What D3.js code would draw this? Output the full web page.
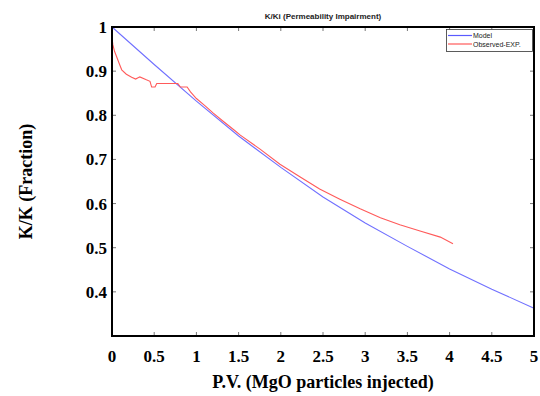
<!DOCTYPE html>
<html><head><meta charset="utf-8">
<script src="https://cdn.jsdelivr.net/npm/d3@7"></script>
<style>body{margin:0;background:#fff}</style>
</head><body>
<svg id="c" width="540" height="396"></svg>
<script>
const title = "K/Ki (Permeability Impairment)";
const xLabel = "P.V. (MgO particles injected)";
const yLabel = "K/K (Fraction)";
const xTicks = [0,0.5,1,1.5,2,2.5,3,3.5,4,4.5,5];
const yTicks = [0.4,0.5,0.6,0.7,0.8,0.9,1];
const seriesNames = ["Model","Observed-EXP."];
const modelX = [0,0.5,1,1.5,2,2.5,3,3.5,4,4.5,5];
const modelY = [1,0.915,0.832,0.753,0.682,0.615,0.556,0.503,0.452,0.406,0.363];
const obsX = [0,0.01,0.03,0.056,0.09,0.115,0.17,0.233,0.28,0.33,0.4,0.45,0.47,0.51,0.53,0.78,0.81,0.89,0.93,1.0,1.1,1.2,1.32,1.45,1.52,1.75,1.99,2.23,2.46,2.70,2.94,3.18,3.41,3.65,3.89,4.04];
const obsY = [0.975,0.96,0.945,0.932,0.915,0.903,0.893,0.886,0.882,0.887,0.881,0.877,0.864,0.864,0.872,0.872,0.864,0.864,0.853,0.838,0.822,0.805,0.786,0.766,0.755,0.724,0.689,0.66,0.633,0.61,0.588,0.568,0.552,0.538,0.524,0.509];

const svg = d3.select("#c");
const L=112,R=534,T=27,B=336;
const x = d3.scaleLinear().domain([0,5]).range([L,R]);
const y = d3.scaleLinear().domain([0.3,1]).range([B,T]);

// ticks (inward, all four sides)
const tg = svg.append("g").attr("stroke","#777").attr("stroke-width",1);
xTicks.slice(1,-1).forEach(v=>{
  tg.append("line").attr("x1",x(v)).attr("x2",x(v)).attr("y1",B).attr("y2",B-4);
  tg.append("line").attr("x1",x(v)).attr("x2",x(v)).attr("y1",T).attr("y2",T+4);
});
yTicks.slice(0,-1).forEach(v=>{
  tg.append("line").attr("x1",L).attr("x2",L+4).attr("y1",y(v)).attr("y2",y(v));
  tg.append("line").attr("x1",R).attr("x2",R-4).attr("y1",y(v)).attr("y2",y(v));
});

// lines
const line = d3.line().x(d=>x(d[0])).y(d=>y(d[1]));
svg.append("path").datum(modelX.map((v,i)=>[v,modelY[i]]))
  .attr("d",line).attr("fill","none").attr("stroke","#7070ff").attr("stroke-width",1.1);
svg.append("path").datum(obsX.map((v,i)=>[v,obsY[i]]))
  .attr("d",line).attr("fill","none").attr("stroke","#ff5a5a").attr("stroke-width",1.1);

// frame
svg.append("rect").attr("x",L).attr("y",T).attr("width",R-L).attr("height",B-T)
  .attr("fill","none").attr("stroke","#000").attr("stroke-width",2);

// tick labels
const tf = "'Liberation Serif','Times New Roman',serif";
svg.append("g").selectAll("text").data(xTicks).join("text")
  .attr("x",d=>x(d)).attr("y",362).attr("text-anchor","middle")
  .attr("font-family",tf).attr("font-weight","bold").attr("font-size",17)
  .text(d=>d);
svg.append("g").selectAll("text").data(yTicks).join("text")
  .attr("x",107).attr("y",d=>y(d)+6).attr("text-anchor","end")
  .attr("font-family",tf).attr("font-weight","bold").attr("font-size",17)
  .text(d=>d);

// axis titles
svg.append("text").attr("x",(L+R)/2).attr("y",388).attr("text-anchor","middle")
  .attr("font-family",tf).attr("font-weight","bold").attr("font-size",18).text(xLabel);
svg.append("text").attr("transform",`translate(32,${(T+B)/2}) rotate(-90)`).attr("text-anchor","middle")
  .attr("font-family",tf).attr("font-weight","bold").attr("font-size",18).text(yLabel);

// title
svg.append("text").attr("x",(L+R)/2).attr("y",19).attr("text-anchor","middle")
  .attr("font-family","'Liberation Sans',Arial,sans-serif").attr("font-weight","bold")
  .attr("font-size",8).attr("fill","#222").text(title);

// legend
const lg = svg.append("g");
lg.append("rect").attr("x",446.5).attr("y",29.5).attr("width",86).attr("height",22)
  .attr("fill","#fff").attr("stroke","#333").attr("stroke-width",0.8);
const lc = ["#5a5aff","#ff5a5a"];
seriesNames.forEach((n,i)=>{
  const yy = 35.5 + i*8.5;
  lg.append("line").attr("x1",448).attr("x2",472).attr("y1",yy).attr("y2",yy)
    .attr("stroke",lc[i]).attr("stroke-width",1.2);
  lg.append("text").attr("x",473).attr("y",yy+2.5)
    .attr("font-family","'Liberation Sans',Arial,sans-serif").attr("font-size",7)
    .attr("fill","#222").text(n);
});
</script>
</body></html>
